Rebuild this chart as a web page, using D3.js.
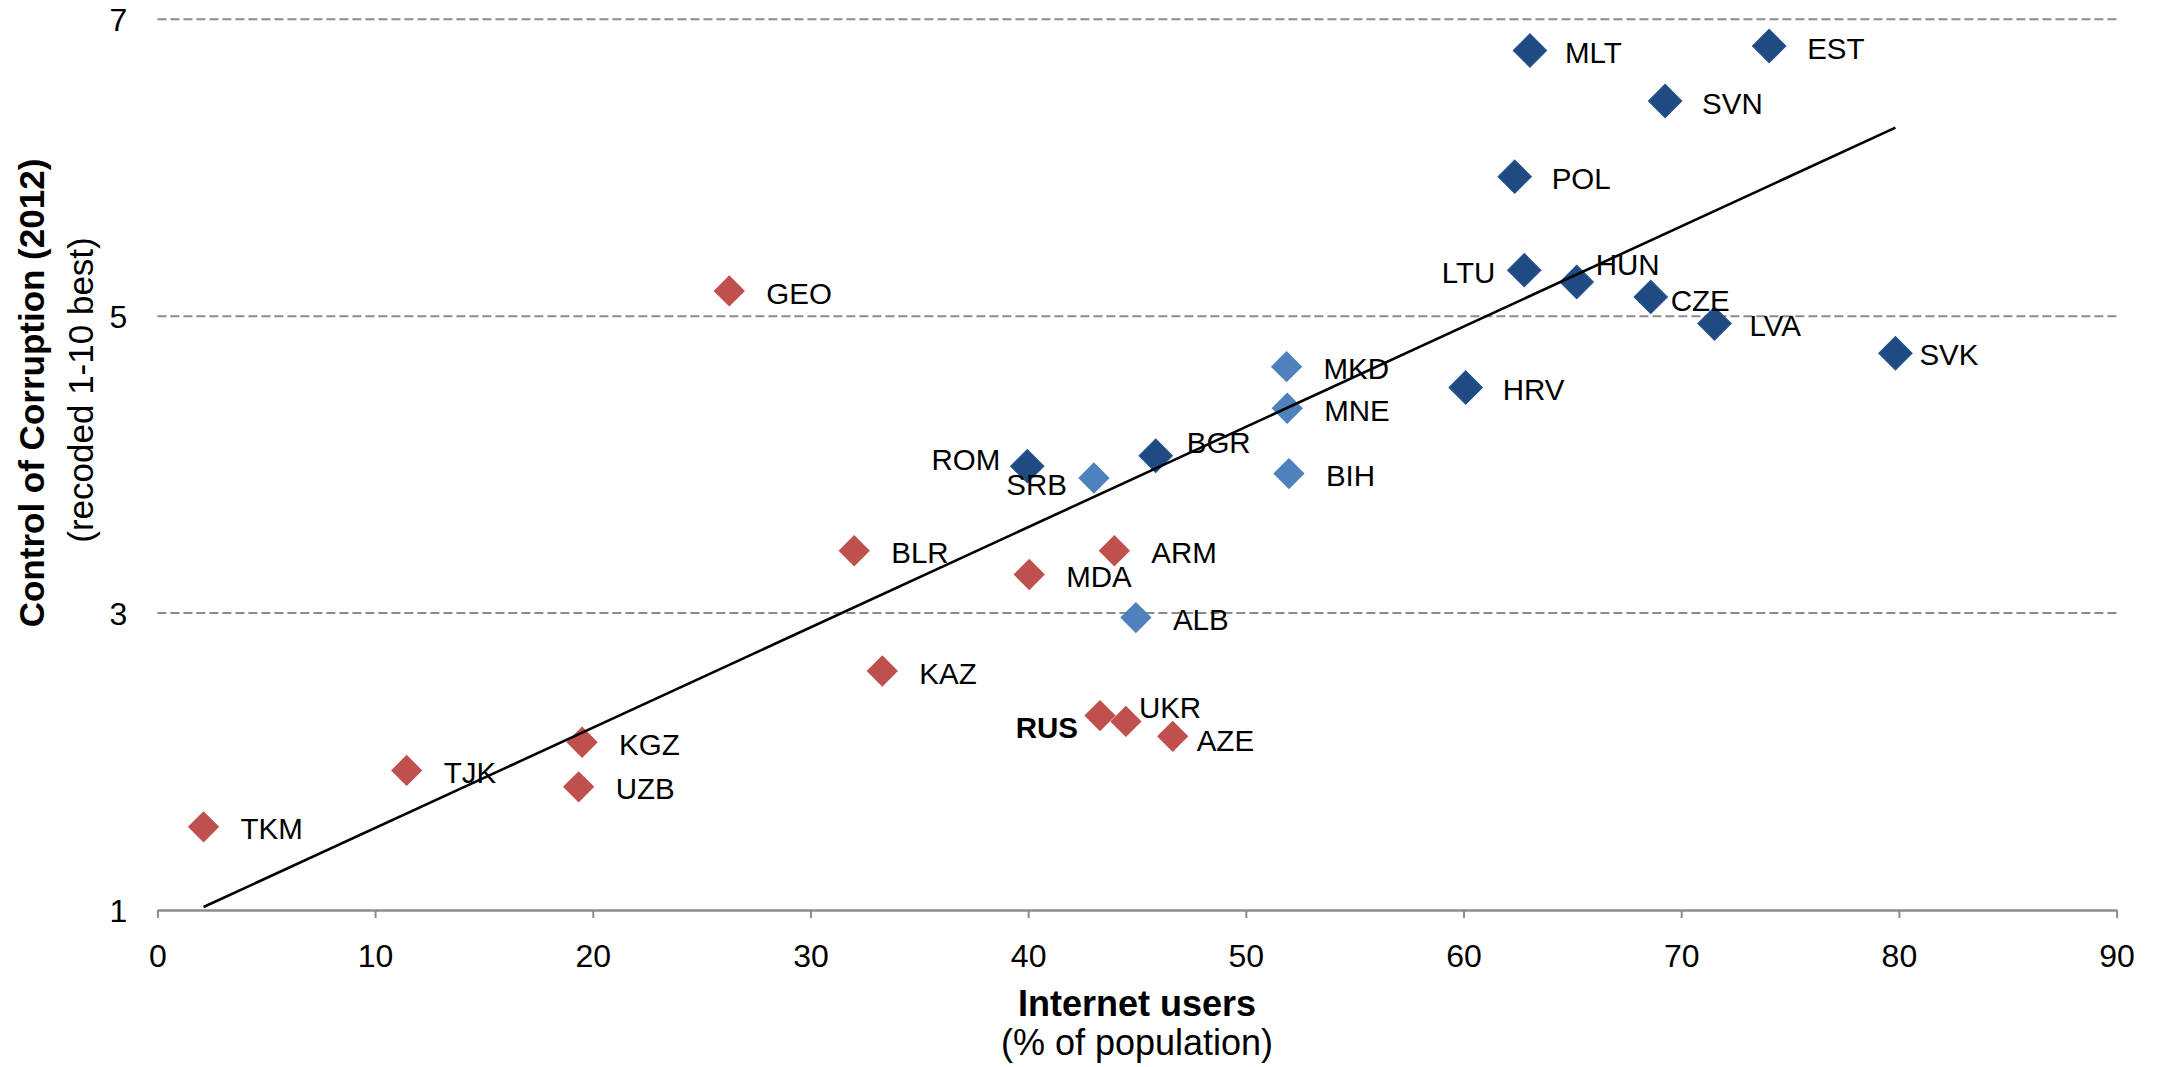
<!DOCTYPE html>
<html><head><meta charset="utf-8">
<script src="https://cdn.jsdelivr.net/npm/d3@7"></script>
<style>
html,body{margin:0;padding:0;background:#fff;}
svg{display:block;font-family:"Liberation Sans",Arial,Helvetica,sans-serif;}
</style>
</head><body>
<svg id="chart" width="2165" height="1067"></svg>
<script>
// ---- data ----
const countries = ["TKM","TJK","KGZ","UZB","GEO","BLR","KAZ","MDA","ARM","RUS","UKR","AZE",
  "ALB","SRB","MKD","MNE","BIH",
  "ROM","BGR","HRV","LTU","POL","MLT","HUN","CZE","SVN","LVA","EST","SVK"];
const internetUsers = [2.12,11.45,19.51,19.35,26.27,32.01,33.30,40.05,43.96,43.30,44.49,46.64,
  44.95,43.02,51.87,51.90,51.98,
  39.96,45.86,60.10,62.79,62.35,63.05,65.20,68.60,69.26,71.53,74.04,79.84];
const corruption = [1.56,1.94,2.13,1.83,5.17,3.42,2.61,3.26,3.42,2.31,2.27,2.17,
  2.97,3.91,4.66,4.38,3.94,
  3.99,4.06,4.52,5.31,5.94,6.79,5.23,5.13,6.45,4.95,6.82,4.75];
const groups = ["cis","cis","cis","cis","cis","cis","cis","cis","cis","cis","cis","cis",
  "cand","cand","cand","cand","cand",
  "eu","eu","eu","eu","eu","eu","eu","eu","eu","eu","eu","eu"];
const xTicks = [0,10,20,30,40,50,60,70,80,90];
const yTicks = [1,3,5,7];
const gridValues = [3,5,7];
const trendX = [2.12, 79.84];
const trendY = [1.02, 6.27];
const boldLabels = ["RUS"];

// ---- layout / style ----
const W = 2165, H = 1067;
const plot = {left:157.4, right:2116.6, top:19.3, bottom:910};
const colors = {eu:"#1F4A82", cand:"#4F81BD", cis:"#C0504D"};
const markerSize = {eu:560, cand:490, cis:490};
// label placement: [dx, dy, anchor]
const labelDefault = [37, 2, "start"];
const labelPlace = {
  RUS:[-22,12,"end"], UKR:[13,-14,"start"], AZE:[24,4,"start"],
  ROM:[-27,-7,"end"], SRB:[-27,6,"end"], BGR:[31,-13,"start"],
  LTU:[-29,2,"end"], HUN:[19,-18,"start"], CZE:[20,3,"start"],
  LVA:[35,2,"start"], SVK:[24,1,"start"], MLT:[35,2,"start"], EST:[38,2,"start"]
};

const svg = d3.select("#chart");
svg.append("rect").attr("width",W).attr("height",H).attr("fill","#fff");

const x = d3.scaleLinear().domain([0,90]).range([plot.left, plot.right]);
const y = d3.scaleLinear().domain([1,7]).range([plot.bottom, plot.top]);

// gridlines
svg.append("g").selectAll("line").data(gridValues).join("line")
  .attr("x1", x(0)).attr("x2", x(90))
  .attr("y1", d=>y(d)).attr("y2", d=>y(d))
  .attr("stroke","#8c8c8c").attr("stroke-width",2)
  .attr("stroke-dasharray","9,4");

// x axis
const xAxis = svg.append("g").attr("transform",`translate(0,${y(1)})`)
  .call(d3.axisBottom(x).tickValues(xTicks).tickFormat(d3.format("d"))
    .tickSize(8).tickSizeOuter(0).tickPadding(26));
xAxis.select(".domain").attr("stroke","#8c8c8c").attr("stroke-width",2.5);
xAxis.selectAll(".tick line").attr("stroke","#8c8c8c").attr("stroke-width",2);
xAxis.selectAll(".tick text").attr("font-size",32).attr("fill","#000")
  .attr("font-family",'"Liberation Sans",Arial,sans-serif');

// y axis
const yAxis = svg.append("g").attr("transform",`translate(${x(0)},0)`)
  .call(d3.axisLeft(y).tickValues(yTicks).tickFormat(d3.format("d"))
    .tickSize(0).tickPadding(30));
yAxis.select(".domain").remove();
yAxis.selectAll(".tick text").attr("font-size",32).attr("fill","#000")
  .attr("dy","0.36em")
  .attr("font-family",'"Liberation Sans",Arial,sans-serif');

// axis titles
svg.append("text").attr("x",(plot.left+plot.right)/2).attr("y",1016)
  .attr("text-anchor","middle").attr("font-size",36).attr("font-weight","bold")
  .text("Internet users");
svg.append("text").attr("x",(plot.left+plot.right)/2).attr("y",1055)
  .attr("text-anchor","middle").attr("font-size",36)
  .text("(% of population)");
svg.append("text").attr("transform","translate(44,393) rotate(-90)")
  .attr("text-anchor","middle").attr("font-size",35).attr("font-weight","bold")
  .text("Control of Corruption (2012)");
svg.append("text").attr("transform","translate(93,390) rotate(-90)")
  .attr("text-anchor","middle").attr("font-size",35)
  .text("(recoded 1-10 best)");

// data
const data = countries.map((c,i)=>({c, xv:internetUsers[i], yv:corruption[i], g:groups[i]}));

// markers
svg.append("g").selectAll("path").data(data).join("path")
  .attr("transform", d=>`translate(${x(d.xv)},${y(d.yv)}) rotate(45)`)
  .attr("d", d=>d3.symbol().type(d3.symbolSquare).size(markerSize[d.g])())
  .attr("fill", d=>colors[d.g])
  .attr("stroke", d=> d.g==="eu" ? "#2a5590" : "none")
  .attr("stroke-width", 1);

// labels
svg.append("g").selectAll("text").data(data).join("text")
  .attr("x", d=>x(d.xv) + (labelPlace[d.c]||labelDefault)[0])
  .attr("y", d=>y(d.yv) + (labelPlace[d.c]||labelDefault)[1])
  .attr("dy","0.36em")
  .attr("text-anchor", d=>(labelPlace[d.c]||labelDefault)[2])
  .attr("font-size",29.5)
  .attr("font-weight", d=>boldLabels.includes(d.c) ? "bold" : "normal")
  .attr("fill","#000")
  .text(d=>d.c);

// trend line
svg.append("path")
  .datum(trendX.map((v,i)=>[v,trendY[i]]))
  .attr("d", d3.line().x(d=>x(d[0])).y(d=>y(d[1])))
  .attr("fill","none").attr("stroke","#000").attr("stroke-width",2.6);
</script>
</body></html>
